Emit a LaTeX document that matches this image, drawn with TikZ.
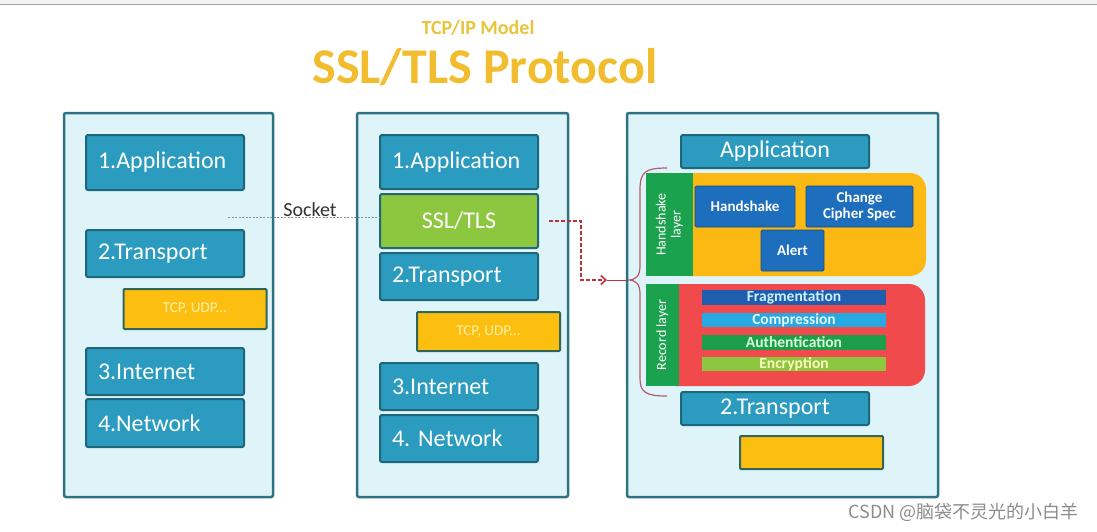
\documentclass[tikz,border=0pt]{standalone}
\usepackage{fontspec}
\setmainfont{Carlito}
\newfontfamily\cjkfont{Noto Sans CJK SC}
\usetikzlibrary{arrows.meta}
\definecolor{panelEdge}{HTML}{2E7283}
\definecolor{panelFill}{HTML}{DFF4F9}
\definecolor{layerBlue}{HTML}{2B9BBF}
\definecolor{layerEdge}{HTML}{1E6679}
\definecolor{sslGreen}{HTML}{8DC63F}
\definecolor{tcpYellow}{HTML}{FDBF0F}
\definecolor{tcpEdge}{HTML}{2F6659}
\definecolor{tcpText}{HTML}{FFF0A8}
\definecolor{bandYellow}{HTML}{FCB914}
\definecolor{bandRed}{HTML}{F04A4C}
\definecolor{stripGreen}{HTML}{1BA24E}
\definecolor{msgBlue}{HTML}{1E6EBE}
\definecolor{fragBlue}{HTML}{1F5DAF}
\definecolor{compBlue}{HTML}{26A8E0}
\definecolor{authGreen}{HTML}{1D9E4B}
\definecolor{encGreen}{HTML}{8DC63F}
\definecolor{titleGold}{HTML}{F1BC2E}
\definecolor{modelGold}{HTML}{E8C53A}
\definecolor{arrowRed}{HTML}{C0303A}
\definecolor{braceRed}{HTML}{B45A70}
\definecolor{socketGrey}{HTML}{7F98A4}

\begin{document}
\begin{tikzpicture}[
    x=1pt, y=-1pt,
    panel/.style={draw=panelEdge, fill=panelFill, line width=2.5pt, rounded corners=2pt,
                  minimum width=#1, minimum height=384pt, inner sep=0pt},
    layer/.style={draw=layerEdge, fill=layerBlue, line width=2pt, rounded corners=2pt,
                  text=white, font=\fontsize{24}{26}\selectfont, inner xsep=12pt, inner ysep=0pt,
                  text width=134pt, align=left, minimum height=#1},
    tcp/.style={draw=tcpEdge, fill=tcpYellow, line width=2pt, rounded corners=1pt,
                text=tcpText, font=\fontsize{15}{17}\selectfont, inner sep=0pt,
                minimum width=143pt, minimum height=#1},
    band/.style={fill=#1, rounded corners=16pt, inner sep=0pt},
    strip/.style={fill=stripGreen, text=white, font=\fontsize{14}{15}\selectfont,
                  align=center, inner sep=0pt, rotate=90},
    msg/.style={fill=msgBlue, draw=msgBlue!70!black, line width=0.8pt, rounded corners=1.5pt,
                text=white, font=\bfseries\fontsize{15}{16}\selectfont, align=center,
                inner sep=0pt, minimum height=41pt, minimum width=#1},
    bar/.style={fill=#1, inner sep=0pt, minimum width=184pt,
                font=\bfseries\fontsize{15.5}{16}\selectfont},
  ]
  \useasboundingbox (0,0) rectangle (1097,531);
  \fill[white] (0,0) rectangle (1097,531);
  \fill[black!5] (0,0) rectangle (1097,4);
  \draw[black!35, line width=1pt] (0,4.5) -- (1097,4.5);

  % title
  \node[font=\bfseries\fontsize{20}{22}\selectfont, text=modelGold] (model) at (478,28) {TCP/IP Model};
  \node[font=\bfseries\fontsize{50}{52}\selectfont, text=titleGold] (title) at (485,67) {SSL/TLS Protocol};

  % the three stacks
  \node[panel=209pt] (tcpip) at (168.5,305) {};
  \node[panel=211pt] (sslip) at (462.5,305) {};
  \node[panel=311pt] (detail) at (782.5,305) {};

  \node[layer=55pt] (appL) at (165,162.5) {1.Application};
  \node[layer=47pt] (trL) at (165,253.5) {2.Transport};
  \node[tcp=40pt] (protoL) at (195,309) {TCP, UDP...};
  \node[layer=47pt] (inL) at (165,371.5) {3.Internet};
  \node[layer=48pt] (netL) at (165,423) {4.Network};

  \node[layer=54pt] (appM) at (459,162) {1.Application};
  \node[layer=54pt, fill=sslGreen, align=center] (ssl) at (459,221) {SSL/TLS};
  \node[layer=47pt] (trM) at (459,276.5) {2.Transport};
  \node[tcp=39pt] (protoM) at (488.5,331.5) {TCP, UDP...};
  \node[layer=47pt] (inM) at (459,386.5) {3.Internet};
  \node[layer=47pt] (netM) at (459,438.5) {4.\ Network};

  % SSL/TLS in detail
  \node[layer=33pt, text width=164pt, align=center] (appR) at (775,151.5) {Application};

  \node[band=bandYellow, minimum width=256pt, minimum height=103pt] (hsBand) at (798,224.5) {};
  \node[strip, minimum width=103pt, minimum height=47pt] (hsStrip) at (669.5,224.5) {Handshake\\layer};
  \node[msg=100pt] (hs) at (745,206.5) {Handshake};
  \node[msg=107pt] (ccs) at (859.5,206.5) {Change\\Cipher Spec};
  \node[msg=63pt] (alert) at (792.5,250.5) {Alert};

  \node[band=bandRed, minimum width=265pt, minimum height=102pt] (recBand) at (792.5,335) {};
  \node[strip, minimum width=102pt, minimum height=33pt] (recStrip) at (662.5,335) {Record layer};
  \node[bar=fragBlue, minimum height=15pt, text=cyan!20] (frag) at (794,297.5) {Fragmentation};
  \node[bar=compBlue, minimum height=14pt, text=cyan!10] (comp) at (794,320) {Compression};
  \node[bar=authGreen, minimum height=15pt, text=green!15] (auth) at (794,342.5) {Authentication};
  \node[bar=encGreen, minimum height=14pt, text=yellow!25] (enc) at (794,364) {Encryption};

  \node[layer=33pt, text width=164pt, align=center] (trR) at (775,408.5) {2.Transport};
  \node[tcp=33pt] (protoR) at (811.5,452.5) {};

  % socket
  \coordinate (sockL) at (228,217);
  \draw[socketGrey, line width=0.8pt, dash pattern=on 2pt off 1.5pt] (sockL) -- (sockL -| ssl.west);
  \node[anchor=base, font=\fontsize{20}{22}\selectfont, text=black!80, inner sep=1pt] (socket) at (310,216) {Socket};

  % brace and arrow
  \coordinate (braceTip) at (628,280);
  \coordinate (arrowEnd) at (607,280);
  \draw[braceRed, line width=1.2pt] (667,168) .. controls (645,168) and (640,172) .. (640,190)
    -- (640,266) .. controls (640,276) and (636,280) .. (braceTip)
    .. controls (636,280) and (640,284) .. (640,294)
    -- (640,378) .. controls (640,392) and (645,396) .. (667,396);
  \draw[arrowRed, line width=1.6pt, dash pattern=on 4pt off 2pt,
        -{Straight Barb[length=5pt, width=9pt]}] ([xshift=10pt]ssl.east) -- ++(32,0) |- (arrowEnd);
  \draw[arrowRed, line width=0.8pt] (arrowEnd) -- (braceTip);

  \node[font=\cjkfont\fontsize{18}{20}\selectfont, text=black!45, anchor=east] (mark) at (1082,512)
    {CSDN @脑袋不灵光的小白羊};
\end{tikzpicture}
\end{document}
